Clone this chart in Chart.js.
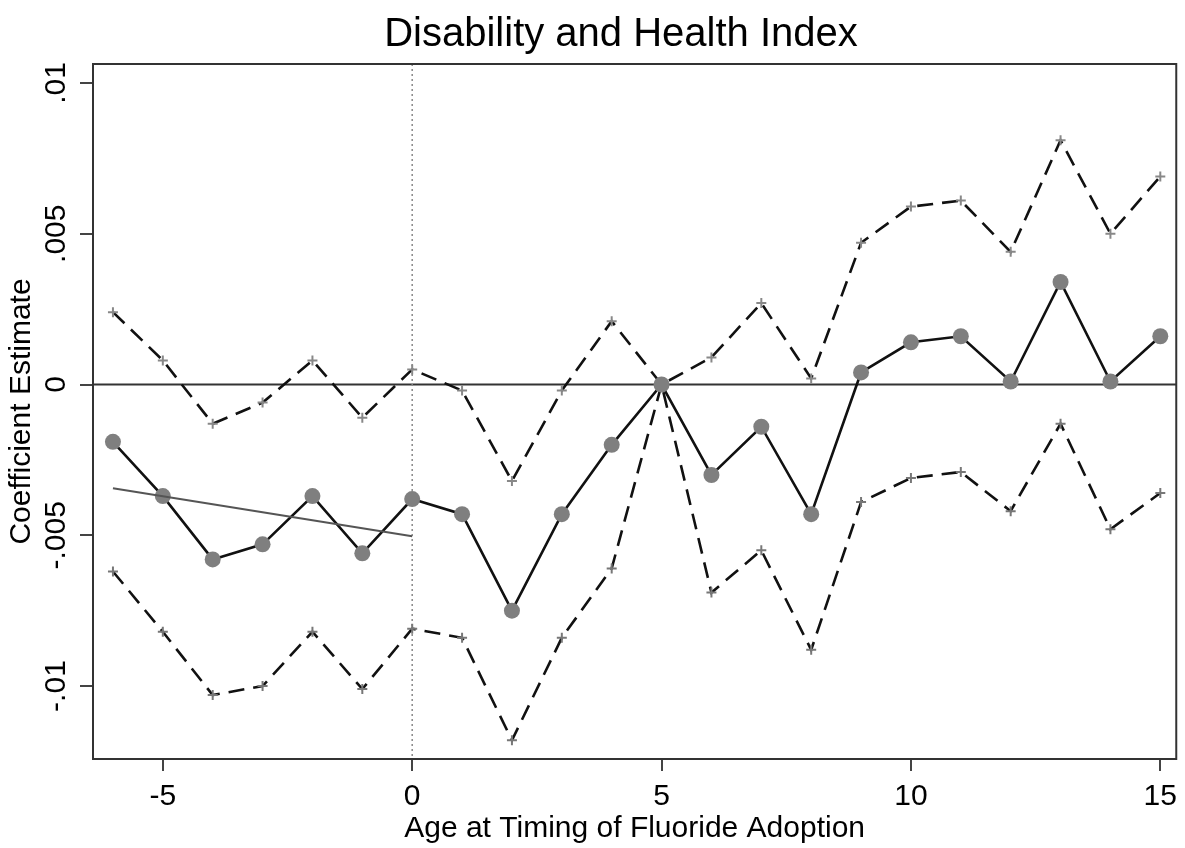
<!DOCTYPE html>
<html>
<head>
<meta charset="utf-8">
<script src="https://cdn.jsdelivr.net/npm/chart.js@4.4.1/dist/chart.umd.min.js"></script>
<style>
  html, body { margin: 0; padding: 0; background: #fff; }
  #wrap { width: 1185px; height: 848px; }
</style>
</head>
<body>
<div id="wrap"><canvas id="c" width="1185" height="848"></canvas></div>
<script>
// values
const ages = [-6, -5, -4, -3, -2, -1, 0, 1, 2, 3, 4, 5, 6, 7, 8, 9, 10, 11, 12, 13, 14, 15];
const estimate = [-0.0019, -0.0037, -0.0058, -0.0053, -0.0037, -0.0056, -0.0038, -0.0043, -0.0075, -0.0043, -0.0020,
                  0, -0.0030, -0.0014, -0.0043, 0.0004, 0.0014, 0.0016, 0.0001, 0.0034, 0.0001, 0.0016];
const upperCI = [0.0024, 0.0008, -0.0013, -0.0006, 0.0008, -0.0011, 0.0005, -0.0002, -0.0032, -0.0002, 0.0021,
                 0, 0.0009, 0.0027, 0.0002, 0.0047, 0.0059, 0.0061, 0.0044, 0.0081, 0.0050, 0.0069];
const lowerCI = [-0.0062, -0.0082, -0.0103, -0.0100, -0.0082, -0.0101, -0.0081, -0.0084, -0.0118, -0.0084, -0.0061,
                 0, -0.0069, -0.0055, -0.0088, -0.0039, -0.0031, -0.0029, -0.0042, -0.0013, -0.0048, -0.0036];
const trendX = [-6, 0];
const trendY = [-0.00344, -0.00503];

const xTickVals = [-5, 0, 5, 10, 15];
const xTickLabels = ['-5', '0', '5', '10', '15'];
const yTickVals = [-0.01, -0.005, 0, 0.005, 0.01];
const yTickLabels = ['-.01', '-.005', '0', '.005', '.01'];

const titleText = 'Disability and Health Index';
const xTitle = 'Age at Timing of Fluoride Adoption';
const yTitle = 'Coefficient Estimate';

const pts = (xs, ys) => xs.map((x, i) => ({x: x, y: ys[i]}));
const FONT = 'Liberation Sans, Arial, sans-serif';

// reference lines, box, rotated y labels and the title
const extras = {
  id: 'extras',
  beforeDatasetsDraw(chart) {
    const {ctx, chartArea: a, scales: {x, y}} = chart;
    ctx.save();
    // zero line
    let y0 = y.getPixelForValue(0);
    ctx.strokeStyle = '#333';
    ctx.lineWidth = 2;
    ctx.beginPath();
    ctx.moveTo(a.left, y0);
    ctx.lineTo(a.right, y0);
    ctx.stroke();
    // dotted line at 0
    let x0 = x.getPixelForValue(0);
    ctx.strokeStyle = '#888';
    ctx.lineWidth = 1.5;
    ctx.setLineDash([2, 3]);
    ctx.beginPath();
    ctx.moveTo(x0, a.top);
    ctx.lineTo(x0, a.bottom);
    ctx.stroke();
    ctx.restore();
  },
  afterDraw(chart) {
    const {ctx, chartArea: a, scales: {y}} = chart;
    ctx.save();
    ctx.strokeStyle = '#333';
    ctx.lineWidth = 2;
    ctx.strokeRect(a.left, a.top, a.right - a.left, a.bottom - a.top);

    ctx.fillStyle = '#000';
    ctx.font = '30px ' + FONT;
    ctx.textAlign = 'center';
    ctx.textBaseline = 'middle';
    yTickVals.forEach((v, i) => {
      ctx.save();
      ctx.translate(57, y.getPixelForValue(v));
      ctx.rotate(-Math.PI / 2);
      ctx.fillText(yTickLabels[i], 0, 0);
      ctx.restore();
    });

    ctx.font = '40px ' + FONT;
    ctx.fillText(titleText, 621, 35);
    ctx.restore();
  }
};

new Chart(document.getElementById('c'), {
  type: 'line',
  data: {
    datasets: [
      {
        label: 'trend',
        data: pts(trendX, trendY),
        borderColor: '#555',
        borderWidth: 2,
        pointRadius: 0,
        order: 0
      },
      {
        label: 'estimate',
        data: pts(ages, estimate),
        borderColor: '#111',
        borderWidth: 2.6,
        pointStyle: 'circle',
        pointRadius: 8,
        pointBackgroundColor: '#7f7f7f',
        pointBorderColor: '#7f7f7f',
        pointBorderWidth: 0,
        order: 1
      },
      {
        label: 'upper',
        data: pts(ages, upperCI),
        borderColor: '#111',
        borderWidth: 2.6,
        borderDash: [16, 9],
        pointStyle: 'cross',
        pointRadius: 5,
        pointBorderColor: '#888',
        pointBorderWidth: 2,
        order: 2
      },
      {
        label: 'lower',
        data: pts(ages, lowerCI),
        borderColor: '#111',
        borderWidth: 2.6,
        borderDash: [16, 9],
        pointStyle: 'cross',
        pointRadius: 5,
        pointBorderColor: '#777',
        pointBorderWidth: 2,
        order: 2
      }
    ]
  },
  options: {
    responsive: false,
    animation: false,
    layout: { autoPadding: false, padding: { top: 64, right: 1, left: 0, bottom: 0 } },
    plugins: { legend: { display: false }, tooltip: { enabled: false }, title: { display: false } },
    elements: { line: { tension: 0 } },
    scales: {
      x: {
        type: 'linear',
        min: -6.4,
        max: 15.32,
        afterBuildTicks: s => { s.ticks = xTickVals.map(v => ({value: v})); },
        afterFit: s => { s.height = 89; },
        grid: { display: true, drawOnChartArea: false, drawTicks: true, tickLength: 12, color: '#444', lineWidth: 2 },
        border: { display: false },
        ticks: {
          padding: 8,
          color: '#000',
          font: { family: FONT, size: 30 },
          maxRotation: 0,
          callback: (v) => xTickLabels[xTickVals.indexOf(v)]
        },
        title: { display: true, text: xTitle, color: '#000', font: { family: FONT, size: 30 }, padding: 1 }
      },
      y: {
        type: 'linear',
        min: -0.01242,
        max: 0.01063,
        afterBuildTicks: s => { s.ticks = yTickVals.map(v => ({value: v})); },
        afterFit: s => { s.width = 93; },
        grid: { display: true, drawOnChartArea: false, drawTicks: true, tickLength: 13, color: '#444', lineWidth: 2 },
        border: { display: false },
        ticks: { display: false },
        title: { display: true, text: yTitle, color: '#000', font: { family: FONT, size: 30 }, padding: 4 }
      }
    }
  },
  plugins: [extras]
});
</script>
</body>
</html>
